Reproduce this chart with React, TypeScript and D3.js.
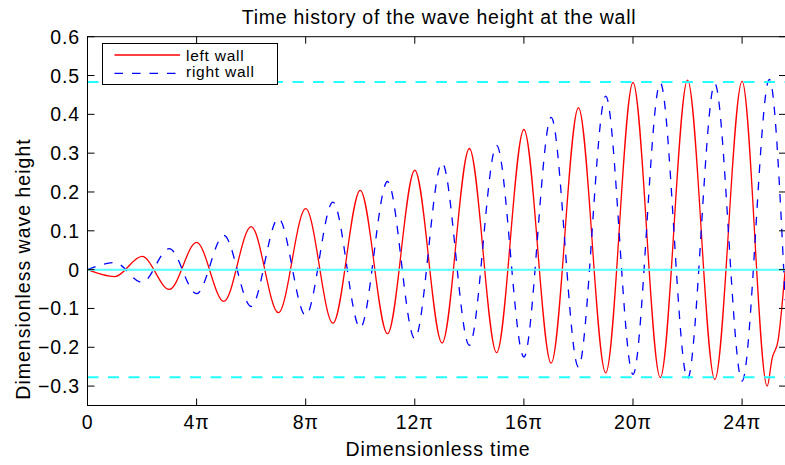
import React from 'react';
import * as d3 from 'd3';

const width = 785;
const height = 465;
const margin = {top: 36.7, right: -1, bottom: 59.5, left: 87.5};

// time in multiples of pi, wave height at the extrema
const leftWallT = [0, 1, 2, 3, 4, 5, 6, 7, 8, 9, 10, 11, 12, 13, 14, 15, 16, 17, 18, 19, 20, 21, 22, 23, 24, 24.92, 25.1, 25.32, 25.58];
const leftWallH = [0, -0.018, 0.034, -0.051, 0.070, -0.082, 0.111, -0.111, 0.157, -0.138, 0.204, -0.165, 0.256, -0.189, 0.312, -0.214, 0.361, -0.241, 0.417, -0.266, 0.482, -0.278, 0.488, -0.283, 0.485, -0.300, -0.229, -0.182, 0.0];

const rightWallT = [0, 1, 2, 3, 4, 5, 6, 7, 8, 9, 10, 11, 12, 13, 14, 15, 16, 17, 18, 19, 20, 21, 22, 23, 24, 25, 25.58];
const rightWallH = [0, 0.018, -0.033, 0.054, -0.062, 0.088, -0.095, 0.132, -0.118, 0.174, -0.150, 0.227, -0.178, 0.275, -0.195, 0.320, -0.225, 0.392, -0.251, 0.447, -0.270, 0.481, -0.281, 0.479, -0.287, 0.490, -0.079];

const bounds = [0.4835, -0.277];

const xTicks = [0, 4, 8, 12, 16, 20, 24];
const xTickLabels = ['0', '4π', '8π', '12π', '16π', '20π', '24π'];
const yTicks = [-0.3, -0.2, -0.1, 0, 0.1, 0.2, 0.3, 0.4, 0.5, 0.6];
const yTickLabels = ['−0.3', '−0.2', '−0.1', '0', '0.1', '0.2', '0.3', '0.4', '0.5', '0.6'];

const font = '"Liberation Sans", Arial, Helvetica, sans-serif';

export default function App() {
  const x0 = margin.left;
  const x1 = width - margin.right;
  const y0 = margin.top;
  const y1 = height - margin.bottom;

  const xScale = d3.scaleLinear().domain([0, 25.61]).range([x0, x1]);
  const yScale = d3.scaleLinear().domain([-0.35, 0.6]).range([y1, y0]);

  const line = d3.line<[number, number]>()
    .x((d) => xScale(d[0]))
    .y((d) => yScale(d[1]))
    .curve(d3.curveMonotoneX);

  const leftPath = line(leftWallT.map((t, i) => [t, leftWallH[i]])) || '';
  const rightPath = line(rightWallT.map((t, i) => [t, rightWallH[i]])) || '';

  const tickLen = 7;

  return (
    <svg width={width} height={height}
      style={{position: 'absolute', left: 0, top: 0, background: 'white'}}
      fontFamily={font}>
      <defs>
        <clipPath id="plot">
          <rect x={x0} y={y0} width={x1 - x0} height={y1 - y0} />
        </clipPath>
      </defs>

      <g clipPath="url(#plot)">
        <path d={leftPath} fill="none" stroke="#ff0000" strokeWidth={1.3} />
        <path d={rightPath} fill="none" stroke="#0000ff" strokeWidth={1.3} strokeDasharray="8.5,9" />
        <line x1={x0} x2={x1} y1={yScale(0)} y2={yScale(0)} stroke="#5ff" strokeWidth={2} />
        {bounds.map((b) => (
          <line key={b} x1={x0} x2={x1} y1={yScale(b)} y2={yScale(b)}
            stroke="#2ff" strokeWidth={2} strokeDasharray="11,9.5" />
        ))}
      </g>

      {/* frame */}
      <rect x={x0} y={y0} width={x1 - x0} height={y1 - y0} fill="none" stroke="black" strokeWidth={1} />
      {xTicks.map((t, i) => (
        <g key={t}>
          <line x1={xScale(t)} x2={xScale(t)} y1={y1} y2={y1 - tickLen} stroke="black" />
          <line x1={xScale(t)} x2={xScale(t)} y1={y0} y2={y0 + tickLen} stroke="black" />
          <text x={xScale(t)} y={429} textAnchor="middle" fontSize={19.5} letterSpacing={0.9}>
            {xTickLabels[i]}
          </text>
        </g>
      ))}
      {yTicks.map((v, i) => (
        <g key={v}>
          <line x1={x0} x2={x0 + tickLen} y1={yScale(v)} y2={yScale(v)} stroke="black" />
          <line x1={x1} x2={x1 - tickLen} y1={yScale(v)} y2={yScale(v)} stroke="black" />
          <text x={80} y={yScale(v)} dy="0.36em" textAnchor="end" fontSize={19.5} letterSpacing={0.9}>
            {yTickLabels[i]}
          </text>
        </g>
      ))}

      <text x={439} y={24} textAnchor="middle" fontSize={19.5} letterSpacing={0.75}>
        Time history of the wave height at the wall
      </text>
      <text x={438} y={456} textAnchor="middle" fontSize={19.5} letterSpacing={0.88}>
        Dimensionless time
      </text>
      <text transform={`translate(30, 269) rotate(-90)`} textAnchor="middle" fontSize={19.5} letterSpacing={1}>
        Dimensionless wave height
      </text>

      {/* legend */}
      <g>
        <rect x={102.5} y={43.5} width={175} height={41} fill="white" stroke="black" strokeWidth={1} />
        <line x1={114.5} x2={180} y1={55} y2={55} stroke="#ff0000" strokeWidth={1.3} />
        <line x1={114.5} x2={180} y1={73.3} y2={73.3} stroke="#0000ff" strokeWidth={1.3} strokeDasharray="8.5,9" />
        <text x={186} y={60.7} fontSize={15.5} letterSpacing={0.75}>left wall</text>
        <text x={186} y={77} fontSize={15.5} letterSpacing={0.75}>right wall</text>
      </g>
    </svg>
  );
}
